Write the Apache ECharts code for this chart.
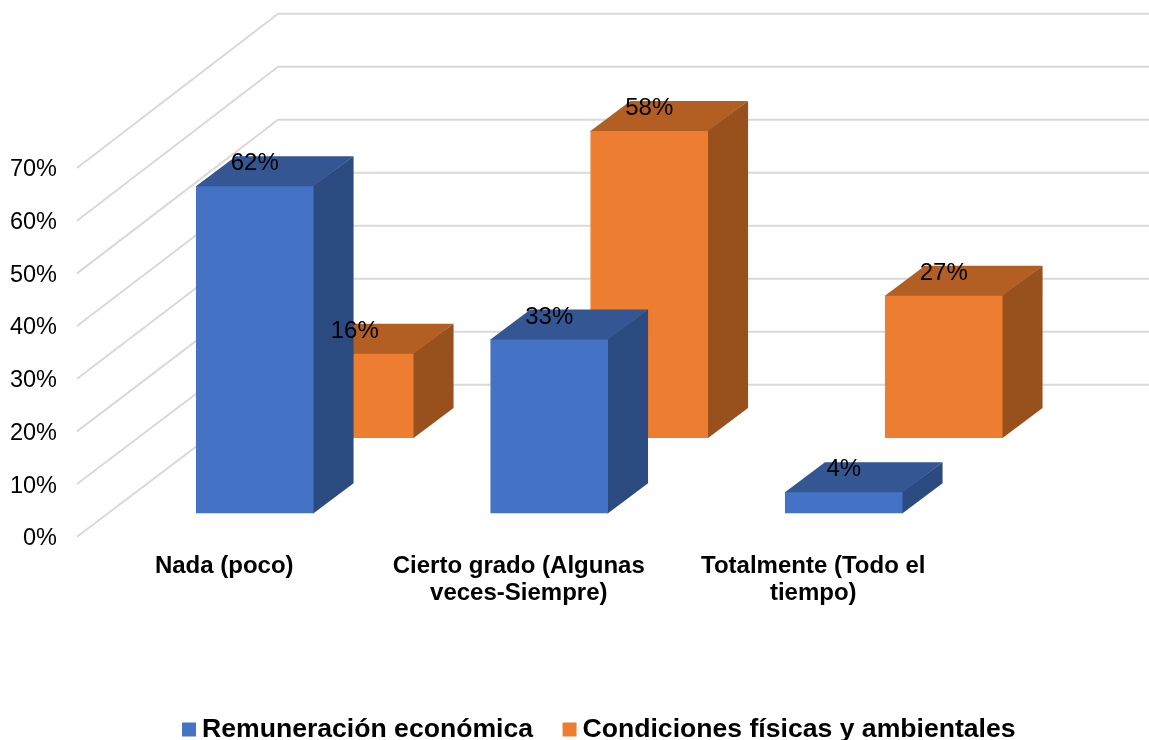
<!DOCTYPE html>
<html>
<head>
<meta charset="utf-8">
<title>Chart</title>
<style>
  html, body { margin: 0; padding: 0; background: #fff; }
  #chart { width: 1149px; height: 740px; }
</style>
<script src="https://cdn.jsdelivr.net/npm/echarts@6/dist/echarts.min.js"></script>
</head>
<body>
<div id="chart"></div>
<script>
const categories = ['Nada (poco)', 'Cierto grado (Algunas\nveces-Siempre)', 'Totalmente (Todo el\ntiempo)']
const remuneracion = [62.1, 33, 4]
const condiciones = [16, 58.3, 27]
const yTicks = [0, 10, 20, 30, 40, 50, 60, 70]

const fontFamily = '"Liberation Sans", Arial, sans-serif'
const barHalfWidth = 58.8
// how far a bar goes back into the picture
const barDepth = [40, -30]
// floor to back wall, the back wall is drawn a bit taller than the front
const wallDepth = [201, -152]
const wallStretch = 371 / 368.7

const chart = echarts.init(document.getElementById('chart'))

function renderWall(params, api) {
  const box = params.coordSys
  const y = api.coord([0, api.value(0)])[1]
  const y0 = api.coord([0, 0])[1]
  const backY = y0 + wallDepth[1] + (y - y0) * wallStretch
  return {
    type: 'polyline',
    shape: {
      points: [
        [box.x, y],
        [box.x + wallDepth[0], backY],
        [box.x + box.width + wallDepth[0], backY]
      ]
    },
    style: { fill: null, stroke: '#d9d9d9', lineWidth: 2 }
  }
}

function boxRenderer(shift, colors) {
  return function (params, api) {
    const cat = api.value(0)
    const top = api.coord([cat, api.value(1)])
    const bottom = api.coord([cat, 0])
    const x0 = top[0] + shift[0] - barHalfWidth
    const x1 = top[0] + shift[0] + barHalfWidth
    const y0 = top[1] + shift[1]
    const y1 = bottom[1] + shift[1]
    const dx = barDepth[0]
    const dy = barDepth[1]
    return {
      type: 'group',
      children: [
        {
          // starts 1px inside the front face so no seam shows
          type: 'polygon',
          shape: { points: [[x1 - 1, y0], [x1 + dx, y0 + dy], [x1 + dx, y1 + dy], [x1, y1], [x1 - 1, y1]] },
          style: { fill: colors.side }
        },
        {
          type: 'polygon',
          shape: { points: [[x0, y0 + 1], [x0, y0], [x0 + dx, y0 + dy], [x1 + dx, y0 + dy], [x1, y0], [x1, y0 + 1]] },
          style: { fill: colors.top }
        },
        {
          type: 'rect',
          shape: { x: x0, y: y0, width: x1 - x0, height: y1 - y0 },
          style: { fill: colors.front }
        }
      ]
    }
  }
}

function labelRenderer(shift) {
  return function (params, api) {
    const cat = api.value(0)
    const value = api.value(1)
    const top = api.coord([cat, value])
    return {
      type: 'text',
      style: {
        text: Math.round(value) + '%',
        x: top[0] + shift[0],
        y: top[1] + shift[1] - 22.5,
        textAlign: 'center',
        textVerticalAlign: 'middle',
        font: '24px ' + fontFamily,
        fill: '#000'
      }
    }
  }
}

const blueShift = [30.5, -23.4]
const orangeShift = [130.5, -98.7]
const blueData = remuneracion.map((v, i) => [i, v])
const orangeData = condiciones.map((v, i) => [i, v])

chart.setOption({
  animation: false,
  backgroundColor: '#fff',
  grid: { left: 77, top: 168, width: 883.5, height: 368.7 },
  legend: {
    left: 182,
    top: 716,
    padding: 0,
    icon: 'rect',
    itemWidth: 14,
    itemHeight: 14,
    itemGap: 29.5,
    selectedMode: false,
    data: ['Remuneración económica', 'Condiciones físicas y ambientales'],
    textStyle: { fontFamily, fontSize: 26.6, fontWeight: 'bold', color: '#000', padding: [0, 0, 0, 1] }
  },
  xAxis: {
    type: 'category',
    data: categories,
    axisLine: { show: false },
    axisTick: { show: false },
    axisLabel: {
      interval: 0,
      margin: 16,
      fontFamily,
      fontSize: 24,
      lineHeight: 27,
      fontWeight: 'bold',
      color: '#000'
    }
  },
  yAxis: {
    type: 'value',
    min: 0,
    max: 70,
    interval: 10,
    axisLine: { show: false },
    axisTick: { show: false },
    splitLine: { show: false },
    axisLabel: {
      margin: 20,
      formatter: '{tick|{value}%}',
      rich: {
        tick: { fontFamily, fontSize: 23.5, color: '#000', padding: [4, 0, 0, 0] }
      }
    }
  },
  series: [
    {
      type: 'custom',
      z: 1,
      silent: true,
      renderItem: renderWall,
      clip: false,
      data: yTicks.map(v => [v])
    },
    {
      name: 'Condiciones físicas y ambientales',
      type: 'custom',
      z: 2,
      itemStyle: { color: '#ed7d31' },
      renderItem: boxRenderer(orangeShift, { front: '#ed7d31', side: '#98501c', top: '#b35e23' }),
      clip: false,
      data: orangeData
    },
    {
      name: 'Remuneración económica',
      type: 'custom',
      z: 3,
      itemStyle: { color: '#4472c4' },
      renderItem: boxRenderer(blueShift, { front: '#4472c4', side: '#2b4a80', top: '#345794' }),
      clip: false,
      data: blueData
    },
    {
      type: 'custom',
      z: 4,
      silent: true,
      renderItem: labelRenderer(orangeShift),
      clip: false,
      data: orangeData
    },
    {
      type: 'custom',
      z: 5,
      silent: true,
      renderItem: labelRenderer(blueShift),
      clip: false,
      data: blueData
    }
  ]
})

window.addEventListener('resize', () => chart.resize())
</script>
</body>
</html>
